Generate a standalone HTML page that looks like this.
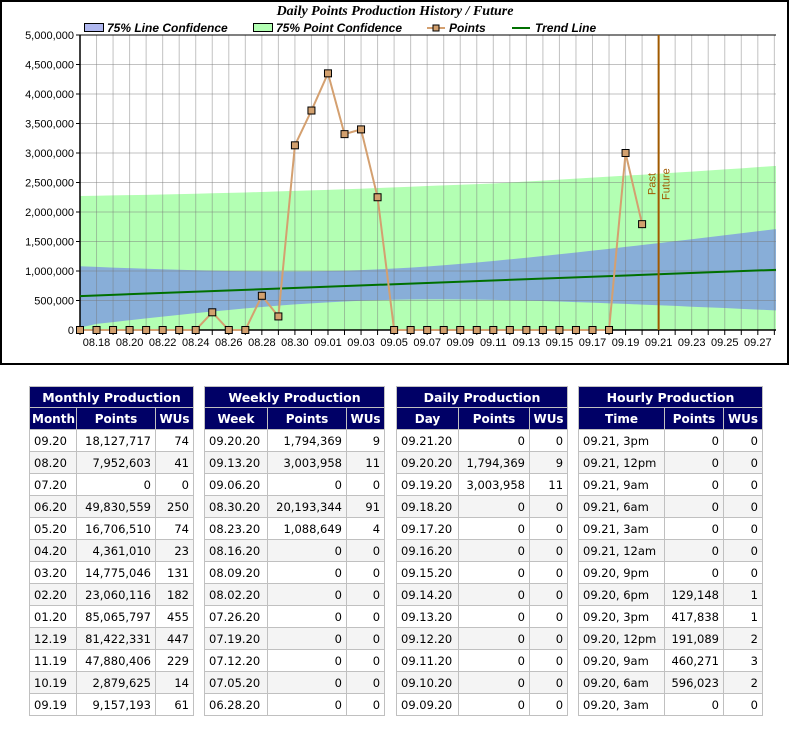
<!DOCTYPE html>
<html><head><meta charset="utf-8"><style>
body{margin:0;width:790px;height:730px;background:#fff;position:relative;overflow:hidden;font-family:"DejaVu Sans","Liberation Sans",sans-serif}
svg{position:absolute;left:0;top:0}
table{position:absolute;border-collapse:collapse;font-size:11.5px;table-layout:fixed}
td,th{border:1px solid #c0c0c0;height:21px;padding:0 4px;white-space:nowrap;overflow:hidden}
th{background:#000066;color:#fff;font-weight:bold;text-align:center;font-size:12px}
tr.t th{height:20px;font-size:12.5px}
td{text-align:right;color:#000}
td:first-child{text-align:left}
tbody tr:nth-child(even) td{background:#f4f4f4}
</style></head><body>
<svg id="chart" width="790" height="370"></svg>

<table style="left:29px;top:386px;width:164px">
<colgroup><col style="width:47px"><col style="width:79px"><col style="width:38px"></colgroup>
<thead><tr class="t"><th colspan="3">Monthly Production</th></tr><tr><th style="padding:0 2px">Month</th><th>Points</th><th style="padding:0 2px">WUs</th></tr></thead>
<tbody>
<tr><td>09.20</td><td>18,127,717</td><td>74</td></tr>
<tr><td>08.20</td><td>7,952,603</td><td>41</td></tr>
<tr><td>07.20</td><td>0</td><td>0</td></tr>
<tr><td>06.20</td><td>49,830,559</td><td>250</td></tr>
<tr><td>05.20</td><td>16,706,510</td><td>74</td></tr>
<tr><td>04.20</td><td>4,361,010</td><td>23</td></tr>
<tr><td>03.20</td><td>14,775,046</td><td>131</td></tr>
<tr><td>02.20</td><td>23,060,116</td><td>182</td></tr>
<tr><td>01.20</td><td>85,065,797</td><td>455</td></tr>
<tr><td>12.19</td><td>81,422,331</td><td>447</td></tr>
<tr><td>11.19</td><td>47,880,406</td><td>229</td></tr>
<tr><td>10.19</td><td>2,879,625</td><td>14</td></tr>
<tr><td>09.19</td><td>9,157,193</td><td>61</td></tr>
</tbody></table>

<table style="left:204px;top:386px;width:180px">
<colgroup><col style="width:63px"><col style="width:79px"><col style="width:38px"></colgroup>
<thead><tr class="t"><th colspan="3">Weekly Production</th></tr><tr><th>Week</th><th>Points</th><th style="padding:0 2px">WUs</th></tr></thead>
<tbody>
<tr><td>09.20.20</td><td>1,794,369</td><td>9</td></tr>
<tr><td>09.13.20</td><td>3,003,958</td><td>11</td></tr>
<tr><td>09.06.20</td><td>0</td><td>0</td></tr>
<tr><td>08.30.20</td><td>20,193,344</td><td>91</td></tr>
<tr><td>08.23.20</td><td>1,088,649</td><td>4</td></tr>
<tr><td>08.16.20</td><td>0</td><td>0</td></tr>
<tr><td>08.09.20</td><td>0</td><td>0</td></tr>
<tr><td>08.02.20</td><td>0</td><td>0</td></tr>
<tr><td>07.26.20</td><td>0</td><td>0</td></tr>
<tr><td>07.19.20</td><td>0</td><td>0</td></tr>
<tr><td>07.12.20</td><td>0</td><td>0</td></tr>
<tr><td>07.05.20</td><td>0</td><td>0</td></tr>
<tr><td>06.28.20</td><td>0</td><td>0</td></tr>
</tbody></table>

<table style="left:396px;top:386px;width:171px">
<colgroup><col style="width:62px"><col style="width:71px"><col style="width:38px"></colgroup>
<thead><tr class="t"><th colspan="3">Daily Production</th></tr><tr><th>Day</th><th>Points</th><th style="padding:0 2px">WUs</th></tr></thead>
<tbody>
<tr><td>09.21.20</td><td>0</td><td>0</td></tr>
<tr><td>09.20.20</td><td>1,794,369</td><td>9</td></tr>
<tr><td>09.19.20</td><td>3,003,958</td><td>11</td></tr>
<tr><td>09.18.20</td><td>0</td><td>0</td></tr>
<tr><td>09.17.20</td><td>0</td><td>0</td></tr>
<tr><td>09.16.20</td><td>0</td><td>0</td></tr>
<tr><td>09.15.20</td><td>0</td><td>0</td></tr>
<tr><td>09.14.20</td><td>0</td><td>0</td></tr>
<tr><td>09.13.20</td><td>0</td><td>0</td></tr>
<tr><td>09.12.20</td><td>0</td><td>0</td></tr>
<tr><td>09.11.20</td><td>0</td><td>0</td></tr>
<tr><td>09.10.20</td><td>0</td><td>0</td></tr>
<tr><td>09.09.20</td><td>0</td><td>0</td></tr>
</tbody></table>

<table style="left:578px;top:386px;width:184px">
<colgroup><col style="width:86px"><col style="width:59px"><col style="width:39px"></colgroup>
<thead><tr class="t"><th colspan="3">Hourly Production</th></tr><tr><th>Time</th><th style="padding:0 2px">Points</th><th style="padding:0 2px">WUs</th></tr></thead>
<tbody>
<tr><td>09.21, 3pm</td><td>0</td><td>0</td></tr>
<tr><td>09.21, 12pm</td><td>0</td><td>0</td></tr>
<tr><td>09.21, 9am</td><td>0</td><td>0</td></tr>
<tr><td>09.21, 6am</td><td>0</td><td>0</td></tr>
<tr><td>09.21, 3am</td><td>0</td><td>0</td></tr>
<tr><td>09.21, 12am</td><td>0</td><td>0</td></tr>
<tr><td>09.20, 9pm</td><td>0</td><td>0</td></tr>
<tr><td>09.20, 6pm</td><td>129,148</td><td>1</td></tr>
<tr><td>09.20, 3pm</td><td>417,838</td><td>1</td></tr>
<tr><td>09.20, 12pm</td><td>191,089</td><td>2</td></tr>
<tr><td>09.20, 9am</td><td>460,271</td><td>3</td></tr>
<tr><td>09.20, 6am</td><td>596,023</td><td>2</td></tr>
<tr><td>09.20, 3am</td><td>0</td><td>0</td></tr>
</tbody></table>

<script>
// values in thousands of points, index = day offset from 08.17
const points = [0,0,0,0,0,0,0,0,300,0,0,580,230,3130,3720,4350,3320,3400,2250,0,0,0,0,0,0,0,0,0,0,0,0,0,0,3000,1794];
const trend = [575,1020];
const lineUpper = [1080,1069,1058,1048,1038,1029,1021,1013,1007,1000,996,994,991,992,994,999,1006,1015,1027,1042,1058,1077,1097,1121,1145,1170,1198,1225,1255,1284,1314,1345,1376,1408,1441,1473,1506,1539,1572,1606,1640,1674,1707];
const lineLower = [40,103,134,166,196,227,257,285,313,340,366,390,413,434,452,469,484,495,505,512,516,519,519,517,514,510,504,497,491,482,472,463,452,442,431,419,408,395,384,372,358,346,333];
const pointUpper = [2271,2276,2281,2286,2291,2296,2303,2310,2317,2324,2331,2340,2349,2357,2366,2375,2385,2395,2406,2417,2429,2440,2451,2461,2472,2483,2499,2516,2532,2549,2566,2583,2599,2616,2632,2649,2667,2685,2704,2722,2740,2760,2779];
const yTicks = [0,500,1000,1500,2000,2500,3000,3500,4000,4500,5000];
const yTickLabels = ["0","500,000","1,000,000","1,500,000","2,000,000","2,500,000","3,000,000","3,500,000","4,000,000","4,500,000","5,000,000"];
const xLabels = ["08.18","08.20","08.22","08.24","08.26","08.28","08.30","09.01","09.03","09.05","09.07","09.09","09.11","09.13","09.15","09.17","09.19","09.21","09.23","09.25","09.27"];
const xLabelDays = [1,3,5,7,9,11,13,15,17,19,21,23,25,27,29,31,33,35,37,39,41];
const nowDay = 35;
const dayCount = 42.1;

const L=80,R=776,T=35,B=330;
const X=d=>L+(R-L)*d/dayCount;
const Y=v=>B-(B-T)*v/5000;
const svg=document.getElementById('chart');
const NS='http://www.w3.org/2000/svg';
function mk(tag,attrs,parent){const e=document.createElementNS(NS,tag);for(const k in attrs)e.setAttribute(k,attrs[k]);(parent||svg).appendChild(e);return e;}

mk('rect',{x:1,y:1,width:787,height:363,fill:'#fff',stroke:'#000','stroke-width':2});
let e=mk('text',{x:395,y:15,'text-anchor':'middle','font-family':'Liberation Serif,serif','font-size':14,'font-weight':'bold','font-style':'italic'});
e.textContent='Daily Points Production History / Future';



let pts=pointUpper.map((v,i)=>X(i)+','+Y(v));
pts.push(R+','+Y(pointUpper[pointUpper.length-1]),R+','+B,L+','+B);
e=mk('polygon',{points:pts.join(' '),fill:'#b3ffb3'});


pts=lineUpper.map((v,i)=>X(i)+','+Y(v));
pts.push(R+','+Y(lineUpper[lineUpper.length-1]));
pts.push(R+','+Y(lineLower[lineLower.length-1]));
for(let i=lineLower.length-1;i>=0;i--)pts.push(X(i)+','+Y(lineLower[i]));
e=mk('polygon',{points:pts.join(' '),fill:'#88aed8'});



for(let d=1;d<=42;d++){mk('line',{x1:X(d),x2:X(d),y1:T,y2:B,stroke:'rgba(120,120,120,0.45)','stroke-width':1});}
yTicks.forEach((v,i)=>{if(i>0)mk('line',{x1:L,x2:R,y1:Y(v),y2:Y(v),stroke:'rgba(120,120,120,0.45)','stroke-width':1});
 let t=mk('text',{x:74,y:Y(v)+4,'text-anchor':'end','font-size':11,'font-family':'Liberation Sans,sans-serif'});t.textContent=yTickLabels[i];
 
 
 mk('line',{x1:L-4,x2:L,y1:Y(v),y2:Y(v),stroke:'#000'});});
mk('line',{x1:L,x2:L,y1:T,y2:B+1,stroke:'#000','stroke-width':1.5});
mk('line',{x1:L,x2:R,y1:B,y2:B,stroke:'#000','stroke-width':1.5});
mk('line',{x1:L,x2:R,y1:T,y2:T,stroke:'#000','stroke-width':1});
for(let d=0;d<=42;d++)mk('line',{x1:X(d),x2:X(d),y1:B,y2:B+5,stroke:'#000'});
xLabels.forEach((s,i)=>{let t=mk('text',{x:X(xLabelDays[i]),y:346,'text-anchor':'middle','font-size':11,'font-family':'Liberation Sans,sans-serif'});t.textContent=s;
 
 });

e=mk('line',{x1:L,x2:R,y1:Y(trend[0]),y2:Y(trend[1]),stroke:'#007000','stroke-width':2});



e=mk('line',{x1:X(nowDay),x2:X(nowDay),y1:T,y2:B,stroke:'#a05a00','stroke-width':2});


e=mk('text',{x:0,y:0,'font-size':11,fill:'#a05a00','font-family':'Liberation Sans,sans-serif',transform:`translate(${X(nowDay)-3},195) rotate(-90)`});e.textContent='Past';


e=mk('text',{x:0,y:0,'font-size':11,fill:'#a05a00','font-family':'Liberation Sans,sans-serif',transform:`translate(${X(nowDay)+11},200) rotate(-90)`});e.textContent='Future';



e=mk('polyline',{points:points.map((v,i)=>X(i)+','+Y(v)).join(' '),fill:'none',stroke:'#d4a070','stroke-width':2});


points.forEach((v,i)=>{let r=mk('rect',{x:X(i)-3.5,y:Y(v)-3.5,width:7,height:7,fill:'#d2a06e',stroke:'#000','stroke-width':1});
 
 });

const lf={'font-size':12,'font-weight':'bold','font-style':'italic','font-family':'Liberation Sans,sans-serif'};
function lt(x,s,n){let t=mk('text',Object.assign({x:x,y:32},lf));t.textContent=s;}
e=mk('rect',{x:84.5,y:23.5,width:19,height:8,fill:'#b0b8f0',stroke:'#000'});


lt(107,'75% Line Confidence','legend-line-confidence');
e=mk('rect',{x:253.5,y:23.5,width:19,height:8,fill:'#b3ffb3',stroke:'#000'});


lt(276,'75% Point Confidence','legend-point-confidence');
mk('line',{x1:427,x2:445,y1:28,y2:28,stroke:'#d4a070','stroke-width':2});
mk('rect',{x:433,y:25,width:6,height:6,fill:'#d2a06e',stroke:'#000'});
lt(449,'Points','legend-points');
mk('line',{x1:512,x2:530,y1:28,y2:28,stroke:'#007000','stroke-width':2});
lt(535,'Trend Line','legend-trend-line');
</script>
</body></html>
